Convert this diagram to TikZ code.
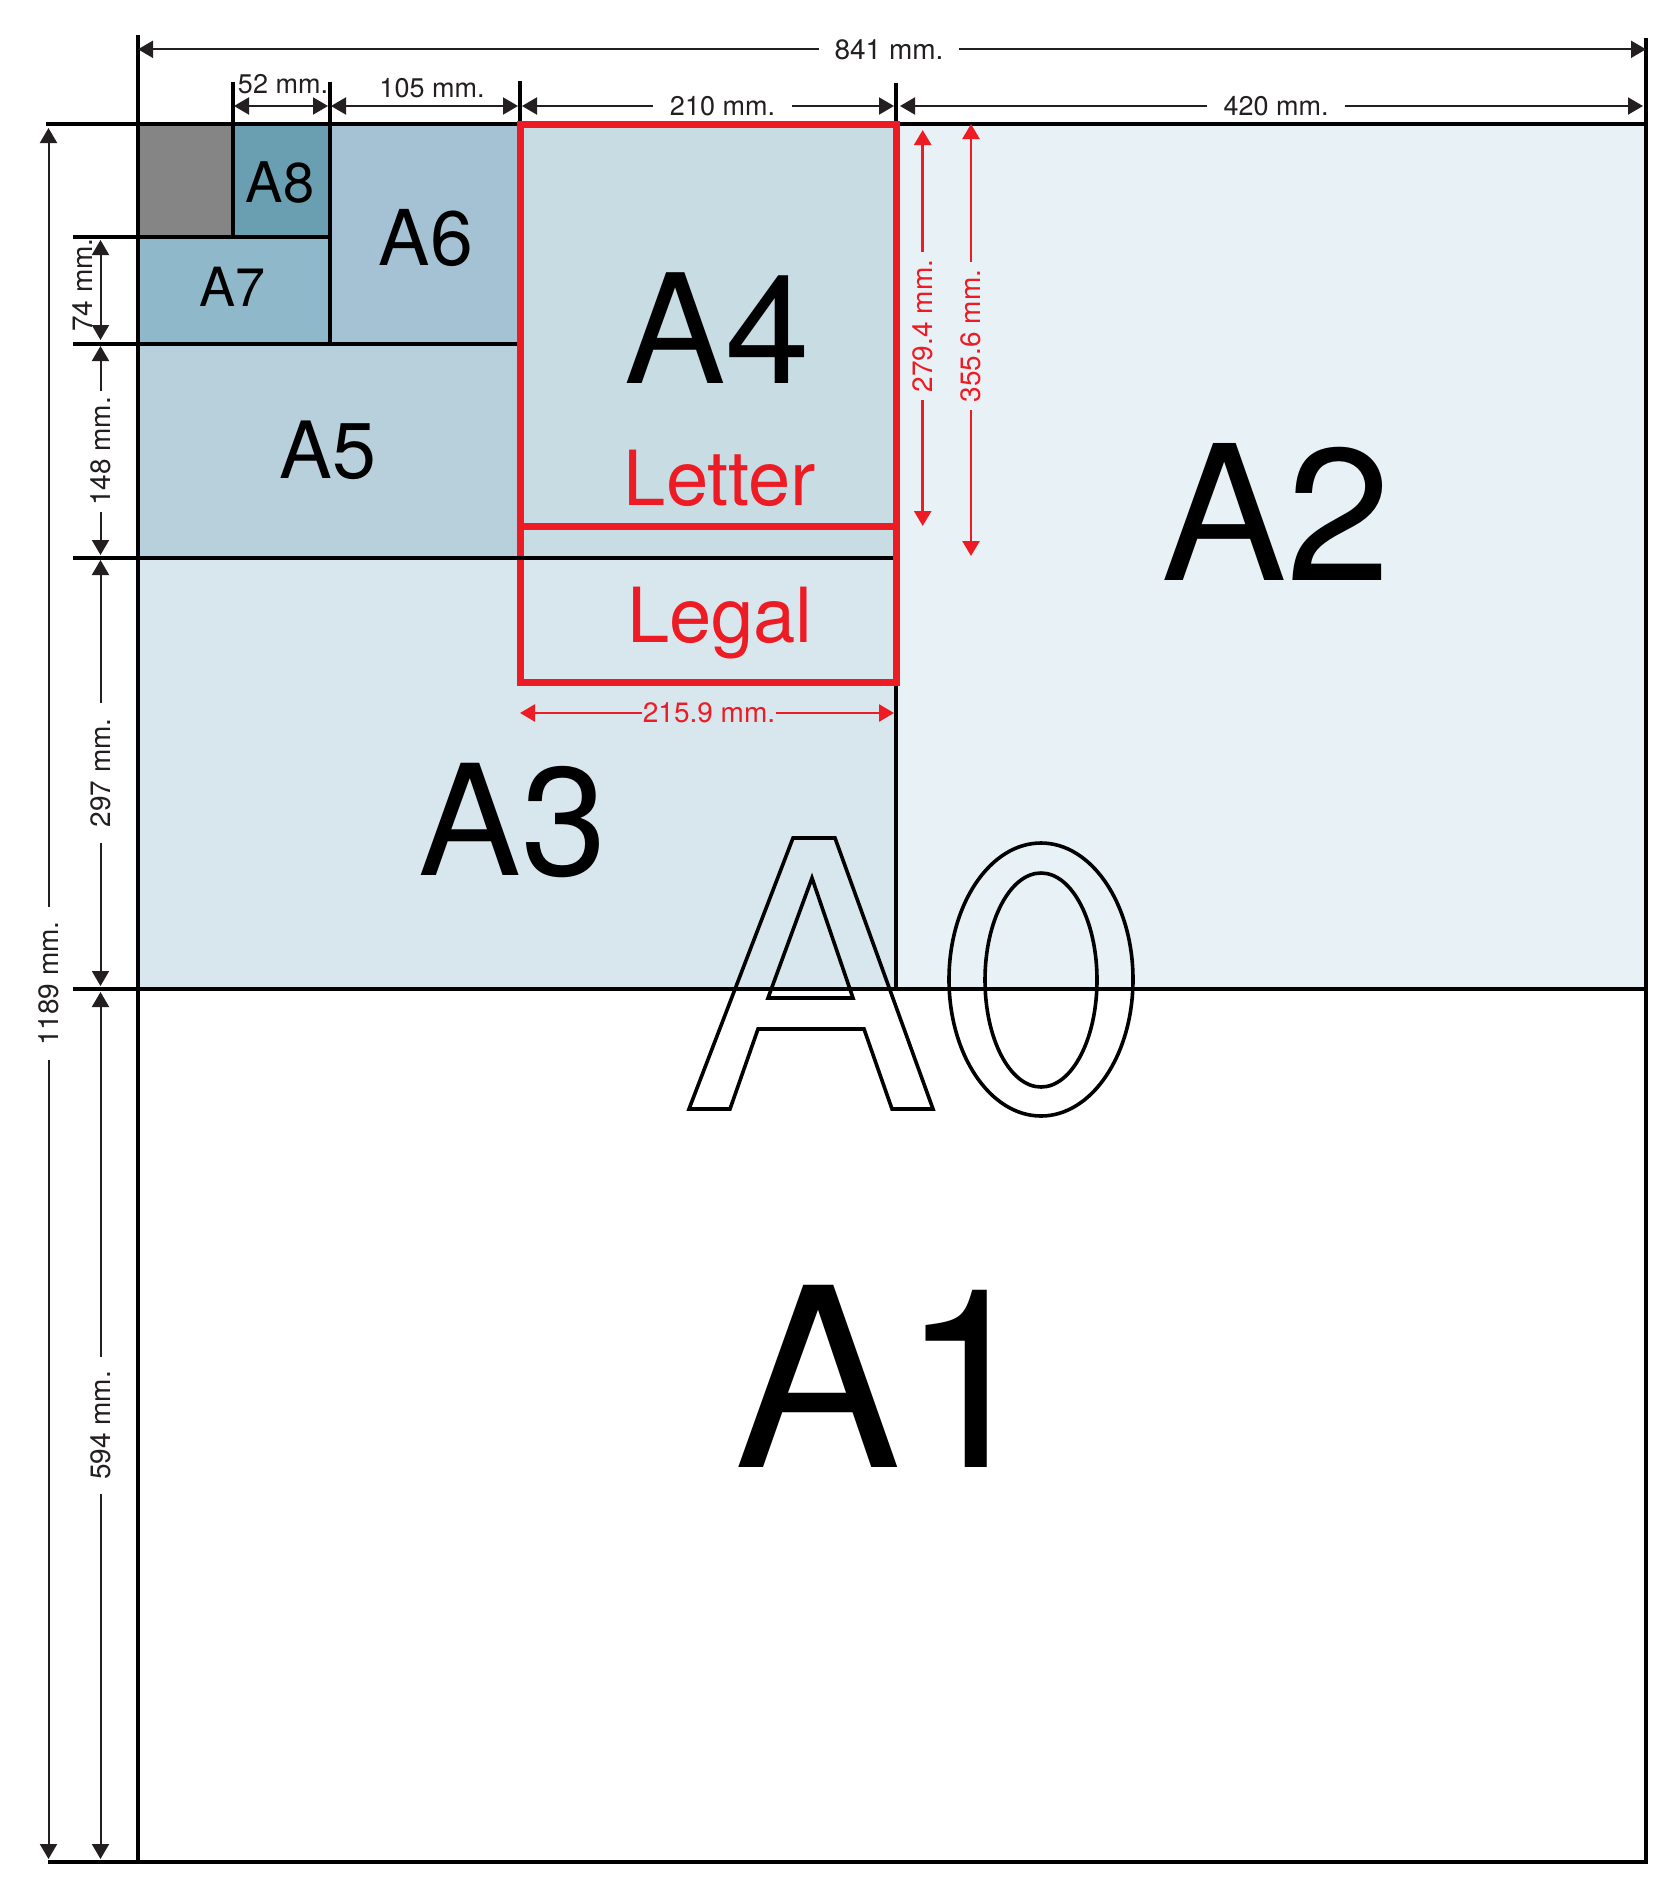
\documentclass[tikz,border=0pt]{standalone}
\usepackage{fontspec}
\setmainfont{TeX Gyre Heros}
\usetikzlibrary{arrows.meta}
\definecolor{cGrey}{HTML}{858585}
\definecolor{cA8}{HTML}{699FB0}
\definecolor{cA7}{HTML}{8FB9CB}
\definecolor{cA6}{HTML}{A4C2D4}
\definecolor{cA5}{HTML}{B8CFDC}
\definecolor{cA4}{HTML}{C8DCE4}
\definecolor{cA3}{HTML}{D8E6ED}
\definecolor{cA2}{HTML}{E8F1F5}
\definecolor{dimc}{HTML}{231F20}
\definecolor{redc}{HTML}{ED1C24}
\tikzset{
  frame/.style={line width=4pt, draw=black},
  redbox/.style={line width=7pt, draw=redc},
  tipdark/.tip={Triangle[length=15pt,width=17pt]},
  dimline/.style={line width=2pt, draw=dimc},
  reddim/.style={line width=2.6pt, draw=redc},
  dimlabel/.style={font=\fontsize{28}{28}\selectfont, text=dimc, inner ysep=0pt},
  smalllabel/.style={font=\fontsize{27}{27}\selectfont, text=dimc, inner sep=0pt},
  redlabel/.style={font=\fontsize{28}{28}\selectfont, text=redc, inner ysep=0pt},
  biglabel/.style={inner sep=0pt, anchor=base, text=black},
  outline/.style={line width=3.6pt, draw=black, line join=miter}
}
\begin{document}
\begin{tikzpicture}[x=1pt,y=-1pt]
\useasboundingbox (0,0) rectangle (1671,1890);
% ---------- fills
\fill[cA2]   (896,124) rectangle (1646,989);
\fill[cA3]   (138,557.5) rectangle (896,989);
\fill[cA4]   (520,124) rectangle (896,557.5);
\fill[cA5]   (138,343.5) rectangle (520,557.5);
\fill[cA6]   (330,124) rectangle (520,343.5);
\fill[cA7]   (138,237.3) rectangle (330,343.5);
\fill[cA8]   (233.4,124) rectangle (330,237.3);
\fill[cGrey] (138,124) rectangle (233.4,237.3);
% ---------- black sheet lines
\draw[frame] (138,124) rectangle (1646,1862);
\draw[frame] (138,35) -- (138,124);
\draw[frame] (1646,38) -- (1646,124);
\draw[frame] (46,124) -- (138,124);
\draw[frame] (48,1862) -- (138,1862);
\draw[frame] (73,237.3) -- (330,237.3);
\draw[frame] (73,343.5) -- (520,343.5);
\draw[frame] (73,989) -- (1646,989);
\draw[frame] (233.4,82) -- (233.4,237.3);
\draw[frame] (330,82) -- (330,343.5);
\draw[frame] (520,81) -- (520,124);
\draw[frame] (896,83) -- (896,124);
\draw[frame] (896,682) -- (896,989);
% ---------- red Letter / Legal
\draw[redbox] (520,124) rectangle (896,682);
\draw[redbox] (520,526) -- (896,526);
\draw[frame] (73,557.5) -- (893,557.5);
% ---------- size names
\node[biglabel, font=\fontsize{56}{56}\selectfont] (tA8) at (280,202) {A8};
\node[biglabel, font=\fontsize{54}{54}\selectfont] (tA7) at (233,306) {A7};
\node[biglabel, font=\fontsize{77}{77}\selectfont] (tA6) at (426,265) {A6};
\node[biglabel, font=\fontsize{79}{79}\selectfont] (tA5) at (328,478) {A5};
\node[biglabel, font=\fontsize{152}{152}\selectfont] (tA4) at (717,383) {A4};
\node[biglabel, font=\fontsize{76}{76}\selectfont, text=redc] (tLetter) at (720,505) {Letter};
\node[biglabel, font=\fontsize{76}{76}\selectfont, text=redc] (tLegal) at (720,642) {Legal};
\node[biglabel, font=\fontsize{154}{154}\selectfont] (tA3) at (513,875) {A3};
\node[biglabel, font=\fontsize{188}{188}\selectfont] (tA2) at (1276,580) {A2};
\node[biglabel, font=\fontsize{250}{250}\selectfont] (tA1) at (887,1467) {A1};
% ---------- outlined A0
\draw[outline] (689,1109) -- (793,838) -- (835,838) -- (933,1109) -- (892,1109)
  -- (864,1029) -- (758,1029) -- (730,1109) -- cycle;
\draw[outline] (812,878) -- (768,998) -- (853,998) -- cycle;
\draw[outline] (1041,979.5) ellipse [x radius=92, y radius=136.5];
\draw[outline] (1041,980) ellipse [x radius=56, y radius=107];
% ---------- top dimensions
\coordinate (t841L) at (138,49.3);
\coordinate (t841R) at (1646,49.3);
\node[dimlabel, inner xsep=15pt] (l841) at (889,49.3) {841 mm.};
\draw[dimline, tipdark-] (t841L) -- (l841.west);
\draw[dimline, -tipdark] (l841.east) -- (t841R);

\coordinate (t52L) at (234,106);
\coordinate (t52R) at (328,106);
\draw[dimline, tipdark-tipdark] (t52L) -- (t52R);
\node[smalllabel, anchor=base] (l52) at (283,93) {52 mm.};

\coordinate (t105L) at (331,106);
\coordinate (t105R) at (518,106);
\draw[dimline, tipdark-tipdark] (t105L) -- (t105R);
\node[smalllabel, anchor=base] (l105) at (432,97) {105 mm.};

\coordinate (t210L) at (522,106);
\coordinate (t210R) at (894,106);
\node[dimlabel, font=\fontsize{27}{27}\selectfont, inner xsep=17pt] (l210) at (722.5,106) {210 mm.};
\draw[dimline, tipdark-] (t210L) -- (l210.west);
\draw[dimline, -tipdark] (l210.east) -- (t210R);

\coordinate (t420L) at (900,106);
\coordinate (t420R) at (1643,106);
\node[dimlabel, font=\fontsize{27}{27}\selectfont, inner xsep=16pt] (l420) at (1276,106) {420 mm.};
\draw[dimline, tipdark-] (t420L) -- (l420.west);
\draw[dimline, -tipdark] (l420.east) -- (t420R);
% ---------- left dimensions
\coordinate (t1189T) at (48.5,128);
\coordinate (t1189B) at (48.5,1859);
\node[dimlabel, rotate=90, inner xsep=14pt] (l1189) at (48.5,983.5) {1189 mm.};
\draw[dimline, tipdark-] (t1189T) -- (l1189.east);
\draw[dimline, -tipdark] (l1189.west) -- (t1189B);

\coordinate (t74T) at (100.5,240);
\coordinate (t74B) at (100.5,340);
\draw[dimline, tipdark-tipdark] (t74T) -- (t74B);
\node[dimlabel, rotate=90, anchor=base, inner sep=0pt] (l74) at (92,285) {74 mm.};

\coordinate (t148T) at (100.5,346);
\coordinate (t148B) at (100.5,555);
\node[dimlabel, rotate=90, inner xsep=6pt] (l148) at (100.5,451.5) {148 mm.};
\draw[dimline, tipdark-] (t148T) -- (l148.east);
\draw[dimline, -tipdark] (l148.west) -- (t148B);

\coordinate (t297T) at (100.5,560);
\coordinate (t297B) at (100.5,986);
\node[dimlabel, rotate=90, inner xsep=15pt] (l297) at (100.5,773) {297 mm.};
\draw[dimline, tipdark-] (t297T) -- (l297.east);
\draw[dimline, -tipdark] (l297.west) -- (t297B);

\coordinate (t594T) at (100.5,992);
\coordinate (t594B) at (100.5,1859);
\node[dimlabel, rotate=90, inner xsep=14pt] (l594) at (100.5,1425.5) {594 mm.};
\draw[dimline, tipdark-] (t594T) -- (l594.east);
\draw[dimline, -tipdark] (l594.west) -- (t594B);
% ---------- red dimensions
\coordinate (r279T) at (922.7,130);
\coordinate (r279B) at (922.7,526);
\node[redlabel, rotate=90, inner xsep=8pt] (l279) at (922.7,326) {279.4 mm.};
\draw[reddim, tipdark-] (r279T) -- (l279.east);
\draw[reddim, -tipdark] (l279.west) -- (r279B);

\coordinate (r355T) at (971,124);
\coordinate (r355B) at (971,556);
\node[redlabel, rotate=90, inner xsep=8pt] (l355) at (971,336) {355.6 mm.};
\draw[reddim, tipdark-] (r355T) -- (l355.east);
\draw[reddim, -tipdark] (l355.west) -- (r355B);

\coordinate (r215L) at (520,713);
\coordinate (r215R) at (894,713);
\node[redlabel, inner xsep=0.5pt] (l215) at (709,713) {215.9 mm.};
\draw[reddim, tipdark-] (r215L) -- (l215.west);
\draw[reddim, -tipdark] (l215.east) -- (r215R);
\end{tikzpicture}
\end{document}
